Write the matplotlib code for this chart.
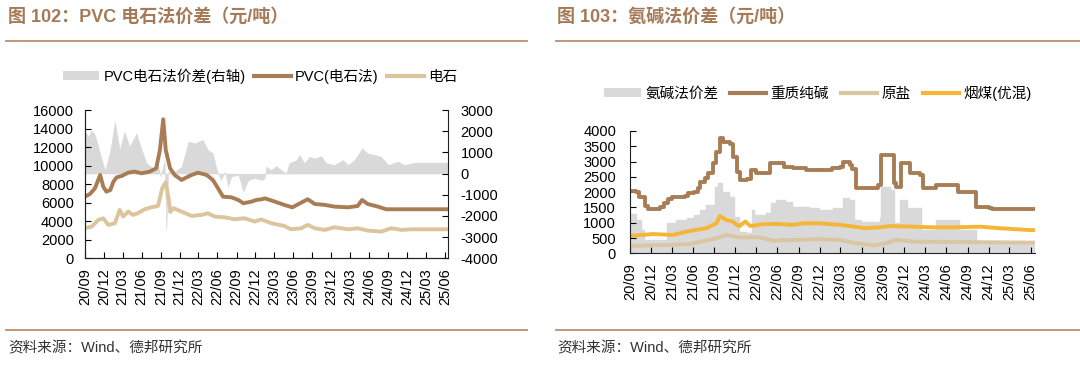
import matplotlib
matplotlib.use("Agg")
import matplotlib.pyplot as plt
import matplotlib.dates as mdates
from matplotlib.lines import Line2D
from matplotlib.patches import Patch
import pandas as pd

plt.rcParams['font.family'] = ['Liberation Sans', 'Noto Sans CJK SC', 'DejaVu Sans']
plt.rcParams['axes.unicode_minus'] = False

# ---------------- data: left chart (PVC) ----------------
pvc_dates = ["2020-09-01", "2020-09-25", "2020-10-19", "2020-11-13", "2020-11-28", "2020-12-13",
             "2021-01-01", "2021-01-16", "2021-02-01", "2021-02-25", "2021-03-28", "2021-04-28",
             "2021-06-01", "2021-07-10", "2021-08-10", "2021-08-28", "2021-09-13", "2021-09-25",
             "2021-10-16", "2021-11-07", "2021-12-10", "2022-01-04", "2022-01-28", "2022-02-27",
             "2022-04-10", "2022-05-10", "2022-06-04", "2022-06-28", "2022-08-07", "2022-09-10",
             "2022-10-04", "2022-11-13", "2022-12-05", "2023-01-01", "2023-01-16", "2023-03-04",
             "2023-04-19", "2023-05-28", "2023-07-10", "2023-08-10", "2023-09-13", "2023-11-01",
             "2023-12-16", "2024-02-22", "2024-04-07", "2024-04-28", "2024-05-25", "2024-07-13",
             "2024-08-22", "2025-06-16"]
pvc_values = [6650, 6940, 7550, 8990, 7730, 7190,
              7370, 8270, 8740, 8880, 9240, 9350,
              9170, 9350, 9710, 11690, 15000, 11690,
              9710, 8990, 8450, 8740, 8990, 9240,
              8990, 8450, 7550, 6650, 6580, 6290,
              5940, 6120, 6290, 6370, 6470, 6120,
              5760, 5500, 6010, 6370, 5860, 5760,
              5580, 5500, 5650, 6290, 5860, 5580,
              5290, 5290]

carbide_dates = ["2020-09-01", "2020-10-03", "2020-11-04", "2020-11-28", "2020-12-22", "2021-01-23",
                 "2021-02-15", "2021-03-04", "2021-03-28", "2021-04-20", "2021-05-13", "2021-06-16",
                 "2021-07-17", "2021-08-19", "2021-09-08", "2021-09-25", "2021-10-10", "2021-10-17",
                 "2021-11-01", "2021-12-10", "2022-01-28", "2022-03-16", "2022-04-16", "2022-05-19",
                 "2022-07-07", "2022-08-22", "2022-10-10", "2022-11-28", "2022-12-29", "2023-02-16",
                 "2023-04-19", "2023-05-22", "2023-07-10", "2023-08-10", "2023-09-13", "2023-11-01",
                 "2023-12-16", "2024-02-22", "2024-04-07", "2024-05-25", "2024-07-28", "2024-09-16",
                 "2024-11-04", "2024-12-22", "2025-06-16"]
carbide_values = [3240, 3420, 4140, 4320, 3600, 3780,
                  5220, 4500, 5040, 4680, 4860, 5290,
                  5500, 5650, 7550, 8200, 6290, 5000,
                  5400, 5040, 4570, 4680, 4860, 4500,
                  4420, 4210, 4320, 3960, 4200, 3780,
                  3490, 3130, 3240, 3600, 3240, 3060,
                  3350, 3130, 3240, 2990, 2880, 3240,
                  3060, 3130, 3130]

spread_dates = ["2020-09-01", "2020-09-17", "2020-10-03", "2020-10-19", "2020-11-04", "2020-11-19",
                "2020-12-07", "2021-01-01", "2021-01-23", "2021-02-07", "2021-02-15", "2021-03-10",
                "2021-04-04", "2021-05-07", "2021-06-01", "2021-06-25", "2021-07-25", "2021-08-19",
                "2021-09-01", "2021-09-19", "2021-09-28", "2021-10-07", "2021-11-07", "2021-12-10",
                "2022-01-13", "2022-02-13", "2022-03-22", "2022-04-16", "2022-05-10", "2022-05-25",
                "2022-06-04", "2022-06-19", "2022-07-07", "2022-07-22", "2022-08-07", "2022-09-10",
                "2022-10-04", "2022-10-28", "2022-11-28", "2023-01-01", "2023-01-16", "2023-01-22",
                "2023-02-15", "2023-03-10", "2023-04-04", "2023-04-28", "2023-05-13", "2023-06-16",
                "2023-07-01", "2023-07-25", "2023-08-19", "2023-09-13", "2023-10-13", "2023-11-07",
                "2023-12-16", "2024-01-28", "2024-02-21", "2024-03-22", "2024-04-28", "2024-05-25",
                "2024-06-28", "2024-07-28", "2024-09-01", "2024-10-19", "2024-11-19", "2025-01-07",
                "2025-06-16"]
spread_values = [1980, 1750, 2030, 1820, 1270, 720,
                 140, 1120, 2450, 1590, 1120, 1980,
                 1270, 1900, 1120, 490, 250, 410,
                 -140, 640, -2660, 90, 90, 330,
                 1510, 1430, 1590, 1120, 960, 330,
                 0, -300, 90, -610, -140, -60,
                 -850, -300, -220, -300, -220, 330,
                 170, 360, 170, 0, 490, 640,
                 880, 490, 800, 720, 830, 490,
                 410, 640, 410, 640, 1190, 960,
                 880, 800, 410, 570, 410, 520,
                 520]

# ---------------- data: right chart (ammonia-soda) ----------------
soda_dates = ["2020-09-01", "2020-09-28", "2020-10-10", "2020-11-04", "2020-11-19", "2021-01-10",
              "2021-01-25", "2021-02-12", "2021-03-01", "2021-04-25", "2021-05-10", "2021-06-07",
              "2021-06-22", "2021-07-01", "2021-07-22", "2021-08-04", "2021-08-25", "2021-09-10",
              "2021-09-25", "2021-10-10", "2021-11-07", "2021-11-19", "2021-12-07", "2021-12-19",
              "2022-01-19", "2022-02-07", "2022-03-01", "2022-04-28", "2022-06-10", "2022-07-01",
              "2022-08-07", "2022-10-04", "2023-01-22", "2023-02-28", "2023-03-10", "2023-04-10",
              "2023-04-22", "2023-05-07", "2023-08-10", "2023-08-25", "2023-10-19", "2023-10-28",
              "2023-11-19", "2023-12-25", "2024-02-07", "2024-02-21", "2024-04-16", "2024-07-22",
              "2024-10-07", "2024-12-01", "2024-12-16", "2025-06-20"]
soda_values = [2050, 2020, 1850, 1550, 1440, 1500,
               1630, 1770, 1850, 1870, 1960, 2020,
               2150, 2340, 2450, 2620, 2940, 3320,
               3760, 3650, 3570, 3160, 2670, 2400,
               2420, 2720, 2640, 2940, 2960, 2830,
               2780, 2720, 2780, 2830, 3000, 2890,
               2750, 2130, 2230, 3220, 2290, 2180,
               2940, 2640, 2560, 2130, 2230, 2020,
               1500, 1470, 1440, 1440]

coal_dates = ["2020-09-01", "2020-12-10", "2021-03-07", "2021-05-04", "2021-07-28", "2021-09-10",
              "2021-09-25", "2021-10-22", "2021-11-19", "2021-12-07", "2021-12-19", "2022-01-13",
              "2022-02-04", "2022-03-28", "2022-05-28", "2022-08-07", "2022-09-19", "2022-12-01",
              "2023-02-28", "2023-05-22", "2023-06-13", "2023-08-19", "2023-09-30", "2024-01-10",
              "2024-04-07", "2024-07-01", "2024-10-25", "2025-01-19", "2025-05-28", "2025-06-20"]
coal_values = [570, 630, 600, 710, 820, 980,
               1220, 1090, 1040, 930, 890, 1040,
               890, 950, 960, 930, 980, 980,
               930, 850, 820, 850, 890, 870,
               850, 850, 870, 820, 760, 760]

salt_dates = ["2020-09-01", "2021-02-04", "2021-05-16", "2021-09-10", "2021-10-22", "2021-12-19",
              "2022-03-16", "2022-05-13", "2022-08-07", "2022-12-01", "2023-02-28", "2023-05-07",
              "2023-07-28", "2023-09-16", "2023-10-28", "2024-01-10", "2025-05-28", "2025-06-20"]
salt_values = [240, 270, 300, 490, 600, 520,
               520, 410, 440, 460, 440, 330,
               260, 330, 440, 380, 350, 350]

# step edges (one more date than values)
ammonia_edges = ["2020-09-01", "2020-10-03", "2020-10-22", "2020-11-04", "2021-02-07", "2021-03-19",
                 "2021-05-04", "2021-06-07", "2021-07-01", "2021-07-28", "2021-09-04", "2021-09-19",
                 "2021-10-10", "2021-11-07", "2021-11-28", "2021-12-19", "2022-01-19", "2022-02-10",
                 "2022-02-25", "2022-04-13", "2022-05-04", "2022-05-25", "2022-07-10", "2022-08-07",
                 "2022-10-19", "2022-12-01", "2023-01-28", "2023-03-10", "2023-04-10", "2023-05-01",
                 "2023-06-01", "2023-08-19", "2023-08-25", "2023-10-07", "2023-10-22", "2023-11-13",
                 "2023-12-19", "2024-02-15", "2024-04-19", "2024-08-01", "2024-10-10", "2025-06-20"]
ammonia_values = [1290, 1090, 760, 420, 980, 1090,
                  1140, 1250, 1420, 1580, 2180, 2310,
                  2020, 1850, 1200, 710, 650, 1420,
                  1250, 1310, 1630, 1740, 1690, 1500,
                  1470, 1420, 1470, 1800, 1740, 1090,
                  1040, 1140, 2180, 2070, 980, 1740,
                  1470, 760, 1090, 760, 350]

tick_dates = ["2020-09-01", "2020-12-01", "2021-03-01", "2021-06-01", "2021-09-01", "2021-12-01",
              "2022-03-01", "2022-06-01", "2022-09-01", "2022-12-01", "2023-03-01", "2023-06-01",
              "2023-09-01", "2023-12-01", "2024-03-01", "2024-06-01", "2024-09-01", "2024-12-01",
              "2025-03-01", "2025-06-01"]
tick_labels = ["20/09", "20/12", "21/03", "21/06", "21/09", "21/12", "22/03", "22/06", "22/09", "22/12",
               "23/03", "23/06", "23/09", "23/12", "24/03", "24/06", "24/09", "24/12", "25/03", "25/06"]

# ---------------- styling ----------------
C_PVC = '#A87D55'
C_CARB = '#DCC59C'
C_GRAY = '#D9D9D9'
C_SODA = '#A87D55'
C_SALT = '#DAC6A2'
C_COAL = '#F5B536'
C_TITLE = '#A57A58'
C_RULE = '#BA8D6C'
FS = 10.5

W, H = 1080, 375
fig = plt.figure(figsize=(W / 100, H / 100), dpi=100)

def box(x0, y0, x1, y1):
    return [x0 / W, 1 - y1 / H, (x1 - x0) / W, (y1 - y0) / H]

def dt(lst):
    return pd.to_datetime(lst)

def style_x(ax, end):
    ax.set_xlim(pd.Timestamp("2020-09-01"), pd.Timestamp(end))
    ax.set_xticks(dt(tick_dates))
    ax.set_xticklabels(tick_labels, rotation=90, fontsize=FS)
    ax.tick_params(axis='x', direction='in', length=4, width=0.8, pad=7)

# ---------- left chart ----------
axL = fig.add_axes(box(85, 110, 448, 258.3))
axR = axL.twinx()
axL.set_zorder(axR.get_zorder() + 1)
axL.patch.set_visible(False)

axR.fill_between(dt(spread_dates), 0, spread_values, facecolor=C_GRAY, edgecolor=C_GRAY, lw=0.3)
axR.set_ylim(-4000, 3000)
axR.set_yticks(range(-4000, 3001, 1000))
axR.tick_params(axis='y', direction='in', length=4, width=0.8, labelsize=FS, pad=9)

axL.plot(dt(carbide_dates), carbide_values, color=C_CARB, lw=2.8, solid_joinstyle='round')
axL.plot(dt(pvc_dates), pvc_values, color=C_PVC, lw=2.8, solid_joinstyle='round')
axL.set_ylim(0, 16000)
axL.set_yticks(range(0, 16001, 2000))
axL.tick_params(axis='y', direction='in', length=4, width=0.8, labelsize=FS, pad=8)
style_x(axL, "2025-06-16")
for a in (axL, axR):
    a.spines['top'].set_visible(False)
    for s in ('left', 'bottom', 'right'):
        a.spines[s].set_color('#222222')
        a.spines[s].set_linewidth(0.8)
axL.spines['right'].set_visible(False)

# ---------- right chart ----------
ax2 = fig.add_axes(box(630, 131, 1035, 253.3))
ax2.stairs(ammonia_values, mdates.date2num(dt(ammonia_edges)), baseline=0, fill=True,
           facecolor=C_GRAY, edgecolor=C_GRAY, lw=0.3)
ax2.plot(dt(salt_dates), salt_values, color=C_SALT, lw=2.8)
ax2.plot(dt(coal_dates), coal_values, color=C_COAL, lw=2.8)
ax2.plot(dt(soda_dates), soda_values, color=C_SODA, lw=2.8, drawstyle='steps-post')
ax2.set_ylim(0, 4000)
ax2.set_yticks(range(0, 4001, 500))
ax2.tick_params(axis='y', direction='in', length=4, width=0.8, labelsize=FS, pad=10)
style_x(ax2, "2025-06-20")
ax2.spines['top'].set_visible(False)
ax2.spines['right'].set_visible(False)
for s in ('left', 'bottom'):
    ax2.spines[s].set_color('#222222')
    ax2.spines[s].set_linewidth(0.8)

# ---------- titles, rules, sources ----------
fig.text(8 / W, 1 - 17 / H, "图 102：PVC 电石法价差（元/吨）", fontsize=13, color=C_TITLE,
         fontweight='bold', va='center', ha='left')
fig.text(557 / W, 1 - 17 / H, "图 103：氨碱法价差（元/吨）", fontsize=13, color=C_TITLE,
         fontweight='bold', va='center', ha='left')
for (x0, x1) in ((6, 527), (556, 1080)):
    fig.add_artist(Line2D([x0 / W, x1 / W], [1 - 41 / H] * 2, color=C_RULE, lw=1.3))
    fig.add_artist(Line2D([x0 / W, x1 / W], [1 - 330 / H] * 2, color=C_RULE, lw=1.3))
fig.text(8 / W, 1 - 348 / H, "资料来源：Wind、德邦研究所", fontsize=FS, color='#333333',
         va='center', ha='left')
fig.text(557 / W, 1 - 348 / H, "资料来源：Wind、德邦研究所", fontsize=FS, color='#333333',
         va='center', ha='left')

# ---------- legends ----------
hL = [Patch(facecolor=C_GRAY, edgecolor='none'),
      Line2D([], [], color=C_PVC, lw=3),
      Line2D([], [], color=C_CARB, lw=3)]
fig.legend(hL, ["PVC电石法价差(右轴)", "PVC(电石法)", "电石"], loc='center',
           bbox_to_anchor=(260 / W, 1 - 76 / H), ncol=3, frameon=False, fontsize=FS,
           handlelength=2.5, handleheight=0.6, columnspacing=0.6, handletextpad=0.3)
hR = [Patch(facecolor=C_GRAY, edgecolor='none'),
      Line2D([], [], color=C_SODA, lw=3),
      Line2D([], [], color=C_SALT, lw=3),
      Line2D([], [], color=C_COAL, lw=3)]
fig.legend(hR, ["氨碱法价差", "重质纯碱", "原盐", "烟煤(优混)"], loc='center',
           bbox_to_anchor=(818 / W, 1 - 93 / H), ncol=4, frameon=False, fontsize=FS,
           handlelength=2.5, handleheight=0.6, columnspacing=0.8, handletextpad=0.3)

fig.savefig("out.png", dpi=100)
